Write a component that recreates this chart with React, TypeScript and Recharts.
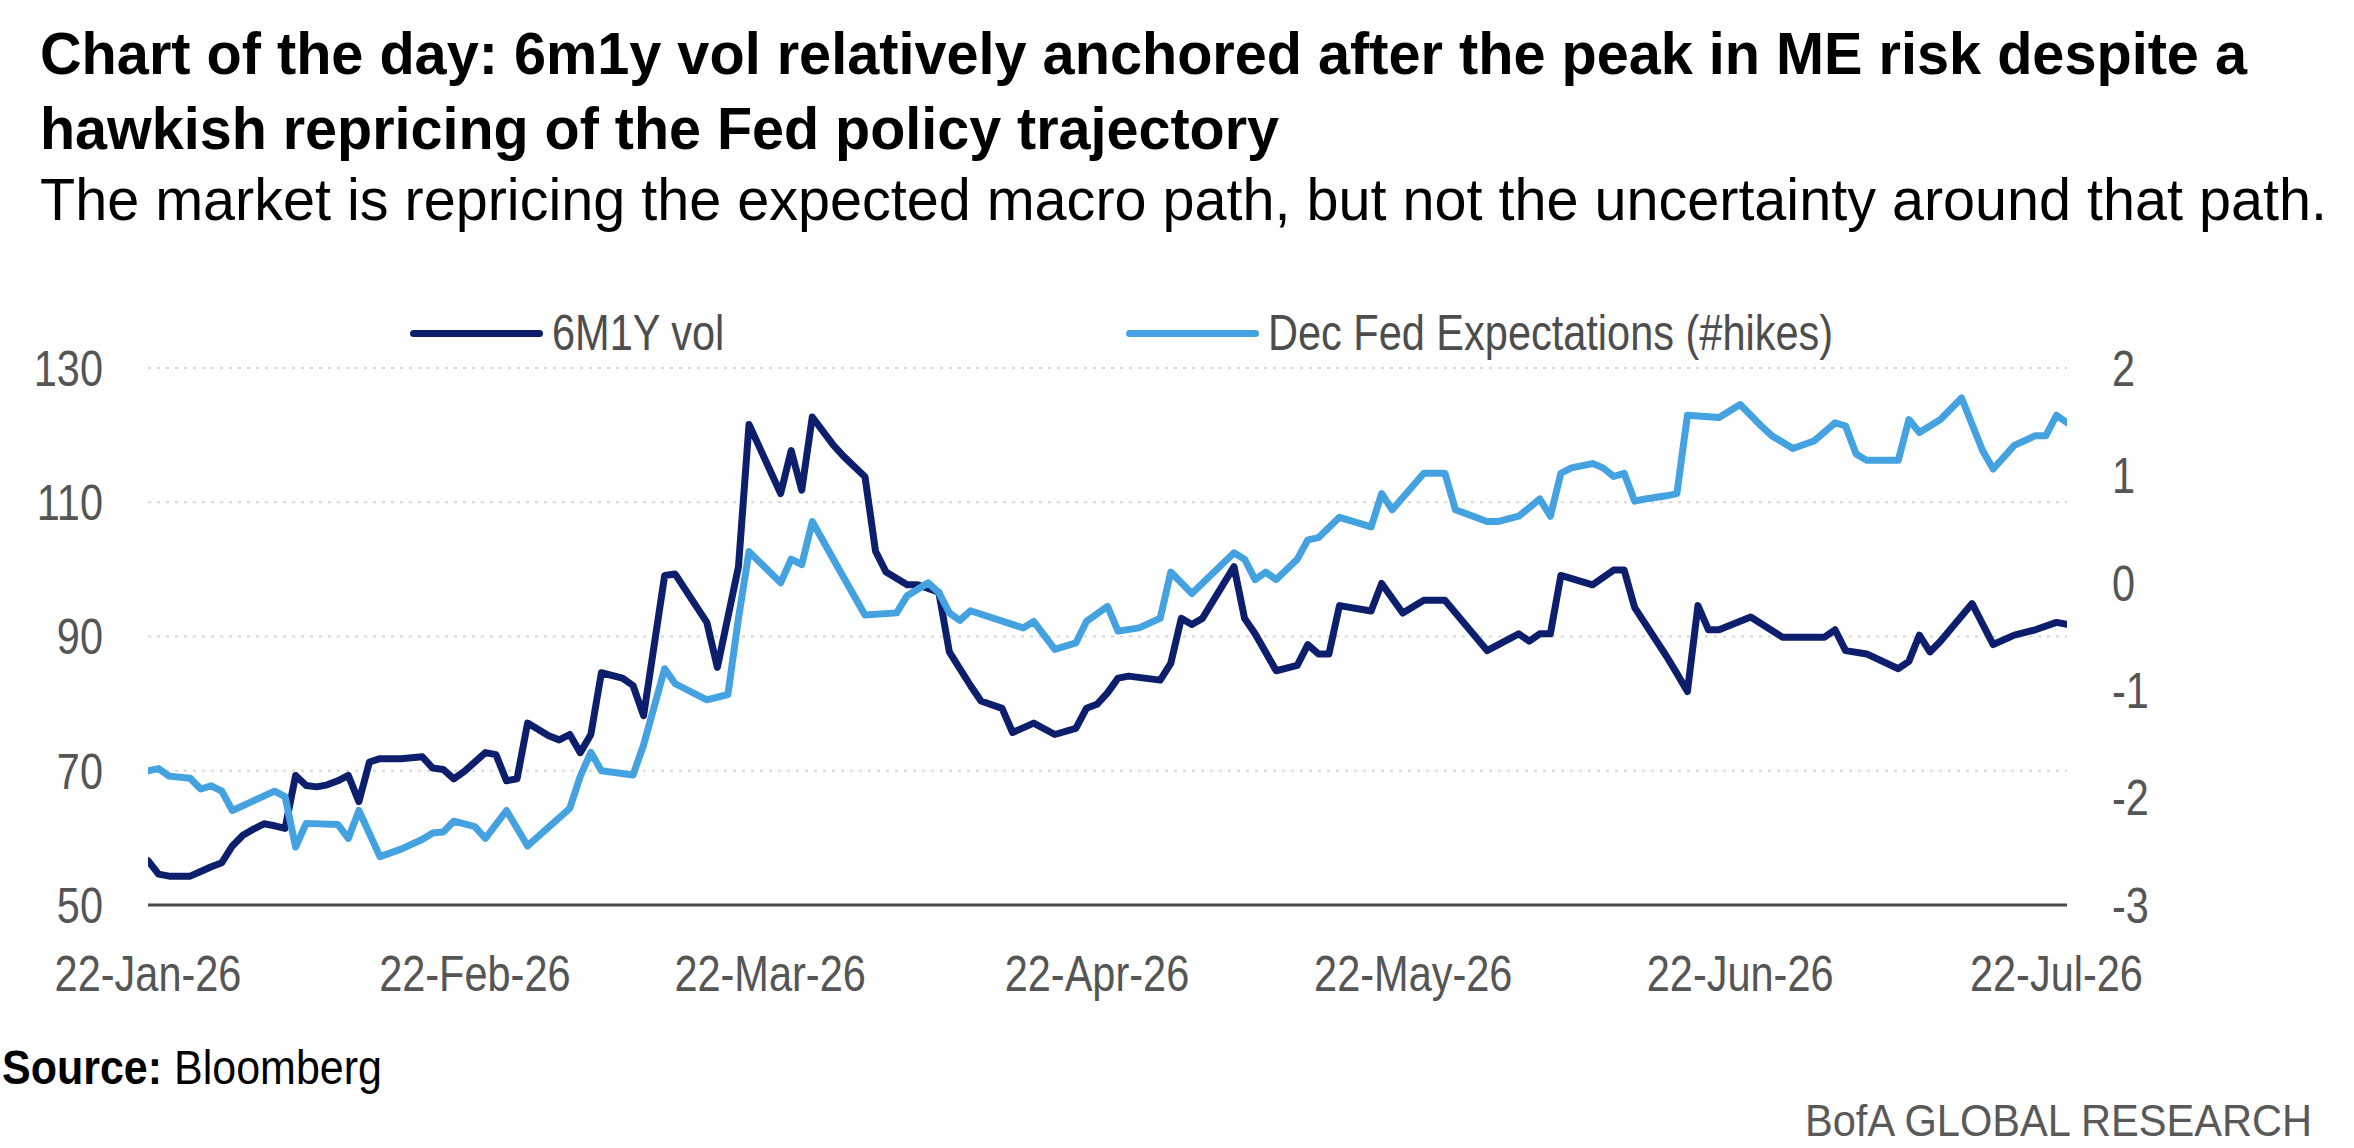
import React from 'react';
import { LineChart, Line, XAxis, YAxis, CartesianGrid, Legend } from 'recharts';

const FONT = "'Liberation Sans', Arial, Helvetica, sans-serif";
// horizontal squeeze applied to the regular sans to get a condensed look
const HEAD_SQUEEZE = 0.96;
const CHART_SQUEEZE = 0.83;

const TITLE_LINES = [
  'Chart of the day: 6m1y vol relatively anchored after the peak in ME risk despite a',
  'hawkish repricing of the Fed policy trajectory',
];
const SUBTITLE = 'The market is repricing the expected macro path, but not the uncertainty around that path.';
const SOURCE_LABEL = 'Source:';
const SOURCE_NAME = ' Bloomberg';
const BRAND = 'BofA GLOBAL RESEARCH';

const SERIES_NAMES = ['6M1Y vol', 'Dec Fed Expectations (#hikes)'];
const SERIES_COLORS = ['#0d1f6c', '#45a2e0'];

const X_DOMAIN = ['2026-01-22', '2026-07-23'];
const X_TICK_DATES = ['2026-01-22', '2026-02-22', '2026-03-22', '2026-04-22', '2026-05-22', '2026-06-22', '2026-07-22'];
const MONTHS = ['Jan', 'Feb', 'Mar', 'Apr', 'May', 'Jun', 'Jul', 'Aug', 'Sep', 'Oct', 'Nov', 'Dec'];
const LEFT_TICKS = [50, 70, 90, 110, 130];
const RIGHT_TICKS = [-3, -2, -1, 0, 1, 2];
const GRID_VALUES = [70, 90, 110, 130];

// 6M1Y vol (left axis)
const VOL_DATES = [
  '2026-01-22', '2026-01-23', '2026-01-24', '2026-01-26', '2026-01-27', '2026-01-28', '2026-01-29', '2026-01-30', '2026-01-31', '2026-02-01',
  '2026-02-02', '2026-02-03', '2026-02-04', '2026-02-05', '2026-02-06', '2026-02-07', '2026-02-08', '2026-02-09', '2026-02-10', '2026-02-11',
  '2026-02-12', '2026-02-13', '2026-02-15', '2026-02-17', '2026-02-18', '2026-02-19', '2026-02-20', '2026-02-21', '2026-02-23', '2026-02-24',
  '2026-02-25', '2026-02-26', '2026-02-27', '2026-03-01', '2026-03-02', '2026-03-03', '2026-03-04', '2026-03-05', '2026-03-06', '2026-03-08',
  '2026-03-09', '2026-03-10', '2026-03-12', '2026-03-13', '2026-03-16', '2026-03-17', '2026-03-19', '2026-03-20', '2026-03-23', '2026-03-24',
  '2026-03-25', '2026-03-26', '2026-03-28', '2026-03-29', '2026-03-31', '2026-04-01', '2026-04-02', '2026-04-04', '2026-04-05', '2026-04-07',
  '2026-04-08', '2026-04-10', '2026-04-11', '2026-04-13', '2026-04-14', '2026-04-16', '2026-04-18', '2026-04-20', '2026-04-21', '2026-04-22',
  '2026-04-23', '2026-04-24', '2026-04-25', '2026-04-28', '2026-04-29', '2026-04-30', '2026-05-01', '2026-05-02', '2026-05-05', '2026-05-06',
  '2026-05-07', '2026-05-09', '2026-05-11', '2026-05-12', '2026-05-13', '2026-05-14', '2026-05-15', '2026-05-18', '2026-05-19', '2026-05-21',
  '2026-05-23', '2026-05-25', '2026-05-29', '2026-06-01', '2026-06-02', '2026-06-03', '2026-06-04', '2026-06-05', '2026-06-08', '2026-06-10',
  '2026-06-11', '2026-06-12', '2026-06-15', '2026-06-16', '2026-06-17', '2026-06-18', '2026-06-19', '2026-06-20', '2026-06-23', '2026-06-26',
  '2026-06-30', '2026-07-01', '2026-07-02', '2026-07-04', '2026-07-07', '2026-07-08', '2026-07-09', '2026-07-10', '2026-07-11', '2026-07-14',
  '2026-07-16', '2026-07-18', '2026-07-20', '2026-07-22', '2026-07-23',
];
const VOL_VALUES = [
  56.6, 54.6, 54.3, 54.3, 55.0, 55.7, 56.3, 58.8, 60.4, 61.3,
  62.1, 61.8, 61.4, 69.3, 67.8, 67.6, 67.9, 68.5, 69.3, 65.4,
  71.3, 71.8, 71.8, 72.1, 70.4, 70.2, 68.8, 69.9, 72.7, 72.4,
  68.5, 68.8, 77.1, 75.2, 74.6, 75.4, 72.7, 75.4, 84.6, 83.8,
  82.7, 78.2, 99.1, 99.3, 92.1, 85.4, 100.4, 121.6, 111.3, 117.7,
  111.8, 122.7, 118.5, 116.8, 113.8, 102.7, 99.6, 97.7, 97.7, 96.6,
  87.7, 82.7, 80.4, 79.3, 75.7, 77.1, 75.4, 76.3, 79.3, 79.9,
  81.6, 83.8, 84.1, 83.5, 86.0, 92.7, 91.8, 92.7, 100.4, 92.7,
  90.4, 84.9, 85.7, 88.8, 87.4, 87.4, 94.6, 93.8, 97.9, 93.5,
  95.4, 95.4, 87.9, 90.4, 89.3, 90.4, 90.4, 99.1, 97.7, 99.9,
  99.9, 94.3, 87.1, 84.5, 81.8, 94.6, 91.0, 91.0, 92.9, 89.9,
  89.9, 91.0, 87.9, 87.4, 85.2, 86.3, 90.2, 87.7, 89.3, 94.9,
  88.8, 90.2, 91.0, 92.1, 91.8,
];

// Dec Fed expectations, number of hikes (right axis)
const FED_DATES = [
  '2026-01-22', '2026-01-23', '2026-01-24', '2026-01-26', '2026-01-27', '2026-01-28', '2026-01-29', '2026-01-30', '2026-02-01', '2026-02-03',
  '2026-02-04', '2026-02-05', '2026-02-06', '2026-02-09', '2026-02-10', '2026-02-11', '2026-02-13', '2026-02-15', '2026-02-17', '2026-02-18',
  '2026-02-19', '2026-02-20', '2026-02-22', '2026-02-23', '2026-02-25', '2026-02-27', '2026-03-03', '2026-03-04', '2026-03-05', '2026-03-06',
  '2026-03-09', '2026-03-10', '2026-03-12', '2026-03-13', '2026-03-16', '2026-03-18', '2026-03-19', '2026-03-20', '2026-03-23', '2026-03-24',
  '2026-03-25', '2026-03-26', '2026-03-28', '2026-03-31', '2026-04-03', '2026-04-04', '2026-04-06', '2026-04-07', '2026-04-08', '2026-04-09',
  '2026-04-10', '2026-04-15', '2026-04-16', '2026-04-18', '2026-04-20', '2026-04-21', '2026-04-23', '2026-04-24', '2026-04-26', '2026-04-28',
  '2026-04-29', '2026-05-01', '2026-05-05', '2026-05-06', '2026-05-07', '2026-05-08', '2026-05-09', '2026-05-11', '2026-05-12', '2026-05-13',
  '2026-05-15', '2026-05-18', '2026-05-19', '2026-05-20', '2026-05-23', '2026-05-25', '2026-05-26', '2026-05-29', '2026-05-30', '2026-06-01',
  '2026-06-03', '2026-06-04', '2026-06-05', '2026-06-06', '2026-06-08', '2026-06-09', '2026-06-10', '2026-06-11', '2026-06-12', '2026-06-13',
  '2026-06-15', '2026-06-16', '2026-06-17', '2026-06-20', '2026-06-22', '2026-06-24', '2026-06-25', '2026-06-27', '2026-06-29', '2026-07-01',
  '2026-07-02', '2026-07-03', '2026-07-04', '2026-07-07', '2026-07-08', '2026-07-09', '2026-07-11', '2026-07-13', '2026-07-15', '2026-07-16',
  '2026-07-18', '2026-07-20', '2026-07-21', '2026-07-22', '2026-07-23',
];
const FED_VALUES = [
  -1.75, -1.73, -1.8, -1.82, -1.92, -1.89, -1.94, -2.12, -2.03, -1.94,
  -1.99, -2.46, -2.24, -2.25, -2.38, -2.12, -2.55, -2.48, -2.39, -2.33,
  -2.32, -2.22, -2.27, -2.38, -2.12, -2.45, -2.1, -1.8, -1.58, -1.75,
  -1.79, -1.51, -0.8, -0.94, -1.09, -1.04, -0.33, 0.29, 0.0, 0.22,
  0.17, 0.57, 0.22, -0.3, -0.28, -0.12, 0.0, -0.09, -0.28, -0.35,
  -0.26, -0.42, -0.36, -0.62, -0.56, -0.36, -0.22, -0.45, -0.42, -0.33,
  0.1, -0.1, 0.28, 0.22, 0.03, 0.1, 0.03, 0.22, 0.4, 0.42,
  0.61, 0.52, 0.83, 0.68, 1.02, 1.02, 0.68, 0.57, 0.57, 0.62,
  0.78, 0.62, 1.02, 1.07, 1.11, 1.07, 0.99, 1.02, 0.76, 0.78,
  0.81, 0.83, 1.56, 1.54, 1.66, 1.46, 1.37, 1.25, 1.32, 1.49,
  1.46, 1.2, 1.14, 1.14, 1.52, 1.4, 1.52, 1.72, 1.23, 1.06,
  1.28, 1.37, 1.37, 1.56, 1.49,
];

const toTime = (iso: string) => {
  const [y, m, d] = iso.split('-').map(Number);
  return Date.UTC(y, m - 1, d);
};

const formatDate = (t: number) => {
  const d = new Date(t);
  return `${d.getUTCDate()}-${MONTHS[d.getUTCMonth()]}-${String(d.getUTCFullYear()).slice(2)}`;
};

const volData = VOL_DATES.map((d, i) => ({ t: toTime(d), v: VOL_VALUES[i] }));
const fedData = FED_DATES.map((d, i) => ({ t: toTime(d), v: FED_VALUES[i] }));
const xDomain = X_DOMAIN.map(toTime);
const xTicks = X_TICK_DATES.map(toTime);

const W = 2354;
const H = 1148;
const TICK_FONT_SIZE = 50;
const TICK_COLOR = '#555555';
const LEGEND_X = [410, 1126];
const LEGEND_Y = 333;

// Condensed tick label: the text is drawn at the tick anchor and squeezed horizontally.
const makeTick = (format: (v: any) => string, dy: string) => (props: any) => {
  const { x, y, payload, textAnchor } = props;
  return (
    <g transform={`translate(${x},${y}) scale(${CHART_SQUEEZE},1)`}>
      <text
        x={0}
        y={0}
        dy={dy}
        textAnchor={textAnchor}
        fill={TICK_COLOR}
        fontSize={TICK_FONT_SIZE}
        fontFamily={FONT}
      >
        {format(payload.value)}
      </text>
    </g>
  );
};

const XTick = makeTick(formatDate, '0.71em');
const YTick = makeTick((v) => String(v), '0.355em');

const renderLegend = (props: any) => {
  const payload = props.payload || [];
  return (
    <div style={{ position: 'relative', height: 0 }}>
      {payload.map((item: any, i: number) => (
        <div
          key={item.value}
          style={{
            position: 'absolute',
            left: LEGEND_X[i],
            top: LEGEND_Y - 30,
            height: 60,
            display: 'flex',
            alignItems: 'center',
            whiteSpace: 'nowrap',
          }}
        >
          <span
            style={{
              display: 'inline-block',
              width: 133,
              height: 7,
              borderRadius: 4,
              background: item.color,
              marginRight: 9,
            }}
          />
          <span
            style={{
              display: 'inline-block',
              fontFamily: FONT,
              fontSize: 50,
              lineHeight: '60px',
              color: '#4d4d4d',
              transform: `scaleX(${CHART_SQUEEZE})`,
              transformOrigin: 'left center',
            }}
          >
            {item.value}
          </span>
        </div>
      ))}
    </div>
  );
};

const HeadText = ({ x, y, size, width, weight, fill, squeeze, anchor = 'start', children }: any) => (
  <g transform={`translate(${x},${y}) scale(${squeeze},1)`}>
    <text
      x={0}
      y={0}
      fontFamily={FONT}
      fontSize={size}
      fontWeight={weight}
      fill={fill}
      textAnchor={anchor}
      textLength={width / squeeze}
      lengthAdjust="spacingAndGlyphs"
    >
      {children}
    </text>
  </g>
);

export default function App() {
  return (
    <div style={{ position: 'absolute', left: 0, top: 0, width: W, height: H, background: '#ffffff', overflow: 'hidden' }}>
      <svg width={W} height={H} style={{ position: 'absolute', left: 0, top: 0 }}>
        <HeadText x={40} y={74} size={60} width={2207} weight="bold" fill="#000" squeeze={HEAD_SQUEEZE}>
          {TITLE_LINES[0]}
        </HeadText>
        <HeadText x={40} y={149} size={60} width={1239} weight="bold" fill="#000" squeeze={HEAD_SQUEEZE}>
          {TITLE_LINES[1]}
        </HeadText>
        <HeadText x={40} y={220} size={60} width={2287} weight="normal" fill="#000" squeeze={HEAD_SQUEEZE}>
          {SUBTITLE}
        </HeadText>
        <HeadText x={2} y={1084} size={48} width={380} weight="normal" fill="#000" squeeze={0.9}>
          <tspan fontWeight="bold">{SOURCE_LABEL}</tspan>
          {SOURCE_NAME}
        </HeadText>
        <HeadText x={2312} y={1136} size={45} width={507} weight="normal" fill="#595959" squeeze={0.9} anchor="end">
          {BRAND}
        </HeadText>
      </svg>
      <div style={{ position: 'absolute', left: 0, top: 0 }}>
        <LineChart width={W} height={H} margin={{ top: 368, right: 187, bottom: 143, left: 48 }}>
          <CartesianGrid
            yAxisId="left"
            vertical={false}
            horizontalValues={GRID_VALUES}
            stroke="#d6d6d6"
            strokeWidth={2}
            strokeDasharray="3 6"
          />
          <XAxis
            dataKey="t"
            type="number"
            domain={xDomain}
            ticks={xTicks}
            interval={0}
            height={100}
            tickSize={0}
            tickMargin={50}
            tickLine={false}
            axisLine={{ stroke: '#4a4a4a', strokeWidth: 3 }}
            tick={XTick}
            allowDataOverflow
          />
          <YAxis
            yAxisId="left"
            orientation="left"
            domain={[50, 130]}
            ticks={LEFT_TICKS}
            interval={0}
            width={100}
            tickSize={0}
            tickMargin={45}
            axisLine={false}
            tickLine={false}
            tick={YTick}
          />
          <YAxis
            yAxisId="right"
            orientation="right"
            domain={[-3, 2]}
            ticks={RIGHT_TICKS}
            interval={0}
            width={100}
            tickSize={0}
            tickMargin={45}
            axisLine={false}
            tickLine={false}
            tick={YTick}
          />
          <Legend
            verticalAlign="top"
            content={renderLegend}
            wrapperStyle={{ left: 0, top: 0, width: W, height: 0 }}
          />
          <Line
            yAxisId="left"
            data={volData}
            dataKey="v"
            name={SERIES_NAMES[0]}
            type="linear"
            stroke={SERIES_COLORS[0]}
            strokeWidth={7}
            strokeLinejoin="round"
            strokeLinecap="round"
            dot={false}
            activeDot={false}
            isAnimationActive={false}
          />
          <Line
            yAxisId="right"
            data={fedData}
            dataKey="v"
            name={SERIES_NAMES[1]}
            type="linear"
            stroke={SERIES_COLORS[1]}
            strokeWidth={7}
            strokeLinejoin="round"
            strokeLinecap="round"
            dot={false}
            activeDot={false}
            isAnimationActive={false}
          />
        </LineChart>
      </div>
    </div>
  );
}
